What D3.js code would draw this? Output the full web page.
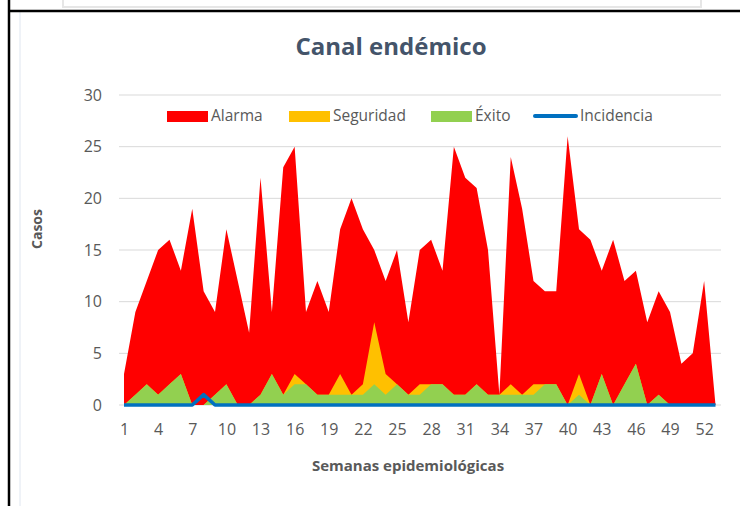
<!DOCTYPE html>
<html>
<head>
<meta charset="utf-8">
<script src="https://cdn.jsdelivr.net/npm/d3@7"></script>
<style>
    body { margin: 0; background: #fff; }
    svg { display: block; }
    text { font-family: "Open Sans", sans-serif; }
</style>
</head>
<body>
<div id="chart"></div>
<script>

// semanas epidemiologicas 1..53
const semanas = d3.range(1, 54);
const tickSemanas = d3.range(1, 54, 3);
const tickCasos = [0, 5, 10, 15, 20, 25, 30];

const alarma = [3, 9, 12, 15, 16, 13, 19, 11, 9, 17,
    12, 7, 22, 9, 23, 25, 9, 12, 9, 17,
    20, 17, 15, 12, 15, 8, 15, 16, 13, 25,
    22, 21, 15, 1, 24, 19, 12, 11, 11, 26,
    17, 16, 13, 16, 12, 13, 8, 11, 9, 4,
    5, 12, 0];

const seguridad = [0, 1, 2, 1, 2, 3, 0, 0, 1, 2,
    0, 0, 1, 3, 1, 3, 2, 1, 1, 3,
    1, 2, 8, 3, 2, 1, 2, 2, 2, 1,
    1, 2, 1, 1, 2, 1, 2, 2, 2, 0,
    3, 0, 3, 0, 2, 4, 0, 1, 0, 0,
    0, 0, 0];

const exito = [0, 1, 2, 1, 2, 3, 0, 0, 1, 2,
    0, 0, 1, 3, 1, 2, 2, 1, 1, 1,
    1, 1, 2, 1, 2, 1, 1, 2, 2, 1,
    1, 2, 1, 1, 1, 1, 1, 2, 2, 0,
    1, 0, 3, 0, 2, 4, 0, 1, 0, 0,
    0, 0, 0];

const incidencia = [0, 0, 0, 0, 0, 0, 0, 1, 0, 0,
    0, 0, 0, 0, 0, 0, 0, 0, 0, 0,
    0, 0, 0, 0, 0, 0, 0, 0, 0, 0,
    0, 0, 0, 0, 0, 0, 0, 0, 0, 0,
    0, 0, 0, 0, 0, 0, 0, 0, 0, 0,
    0, 0, 0];

const series = [
    {name: 'Alarma', values: alarma, color: '#FF0000'},
    {name: 'Seguridad', values: seguridad, color: '#FFC000'},
    {name: 'Éxito', values: exito, color: '#92D050'},
];

const w = 740;
const h = 506;
const textColor = '#595959';

const svg = d3.select('#chart').append('svg')
    .attr('width', w)
    .attr('height', h);

// marco de la hoja
svg.append('rect')
    .attr('x', 63).attr('y', -4)
    .attr('width', 638).attr('height', 11)
    .attr('fill', 'none')
    .attr('stroke', '#e6e6e6')
    .attr('stroke-width', 2);
svg.append('line')
    .attr('x1', 20).attr('x2', 20)
    .attr('y1', 12).attr('y2', h)
    .attr('stroke', '#dfe6f0').attr('stroke-width', 1);
svg.append('line')
    .attr('x1', 8).attr('x2', w)
    .attr('y1', 11).attr('y2', 11)
    .attr('stroke', '#000').attr('stroke-width', 2.5);
svg.append('line')
    .attr('x1', 9).attr('x2', 9)
    .attr('y1', 0).attr('y2', h)
    .attr('stroke', '#000').attr('stroke-width', 2.5);

const x = d3.scaleLinear().domain([1, 53]).range([124, 715.5]);
const y = d3.scaleLinear().domain([0, 30]).range([405, 95]);

// lineas de division
svg.append('g')
    .selectAll('line')
    .data(tickCasos)
    .enter()
    .append('line')
    .attr('x1', 119)
    .attr('x2', 721)
    .attr('y1', d => y(d))
    .attr('y2', d => y(d))
    .attr('stroke', '#D9D9D9')
    .attr('stroke-width', 1);

const area = vals => d3.area()
    .x((d, i) => x(semanas[i]))
    .y0(y(0))
    .y1(d => y(d))(vals);

svg.append('g')
    .selectAll('path')
    .data(series)
    .enter()
    .append('path')
    .attr('d', d => area(d.values))
    .attr('fill', d => d.color);

const line = d3.line()
    .x((d, i) => x(semanas[i]))
    .y(d => y(d));

svg.append('path')
    .attr('d', line(incidencia))
    .attr('fill', 'none')
    .attr('stroke', '#0070C0')
    .attr('stroke-width', 3.5)
    .attr('stroke-linejoin', 'round');

// ejes
const yAxis = svg.append('g')
    .attr('transform', 'translate(102,0)')
    .call(d3.axisLeft(y).tickValues(tickCasos).tickSize(0).tickPadding(0));
yAxis.select('.domain').remove();
yAxis.selectAll('text')
    .attr('fill', textColor)
    .style('font-size', '16px');

const xAxis = svg.append('g')
    .attr('transform', 'translate(0,424)')
    .call(d3.axisBottom(x).tickValues(tickSemanas).tickFormat(d3.format('d')).tickSize(0).tickPadding(0));
xAxis.select('.domain').remove();
xAxis.selectAll('text')
    .attr('fill', textColor)
    .style('font-size', '16px');

// titulos
svg.append('text')
    .text('Canal endémico')
    .attr('x', 391)
    .attr('y', 55)
    .attr('text-anchor', 'middle')
    .attr('fill', '#44546A')
    .style('font-size', '24px')
    .style('font-weight', 'bold');

svg.append('text')
    .text('Semanas epidemiológicas')
    .attr('x', 408)
    .attr('y', 471)
    .attr('text-anchor', 'middle')
    .attr('fill', textColor)
    .style('font-size', '15px')
    .style('font-weight', 'bold');

svg.append('text')
    .text('Casos')
    .attr('transform', 'translate(42,229) rotate(-90)')
    .attr('text-anchor', 'middle')
    .attr('fill', textColor)
    .style('font-size', '14px')
    .style('font-weight', 'bold');

// leyenda
const legendItems = [
    {name: 'Alarma', color: '#FF0000', x: 167, type: 'rect'},
    {name: 'Seguridad', color: '#FFC000', x: 289, type: 'rect'},
    {name: 'Éxito', color: '#92D050', x: 431, type: 'rect'},
    {name: 'Incidencia', color: '#0070C0', x: 534, type: 'line'},
];

const legend = svg.append('g')
    .selectAll('g')
    .data(legendItems)
    .enter()
    .append('g')
    .attr('transform', d => `translate(${d.x},116)`);

legend.filter(d => d.type === 'rect')
    .append('rect')
    .attr('x', 0).attr('y', -5)
    .attr('width', 41).attr('height', 11)
    .attr('fill', d => d.color);

legend.filter(d => d.type === 'line')
    .append('line')
    .attr('x1', 1).attr('x2', 42)
    .attr('y1', 0).attr('y2', 0)
    .attr('stroke', d => d.color)
    .attr('stroke-width', 4)
    .attr('stroke-linecap', 'round');

legend.append('text')
    .text(d => d.name)
    .attr('x', d => d.type === 'line' ? 46 : 44)
    .attr('y', 0)
    .attr('dy', '0.35em')
    .attr('fill', textColor)
    .style('font-size', '15.5px');

</script>
</body>
</html>
